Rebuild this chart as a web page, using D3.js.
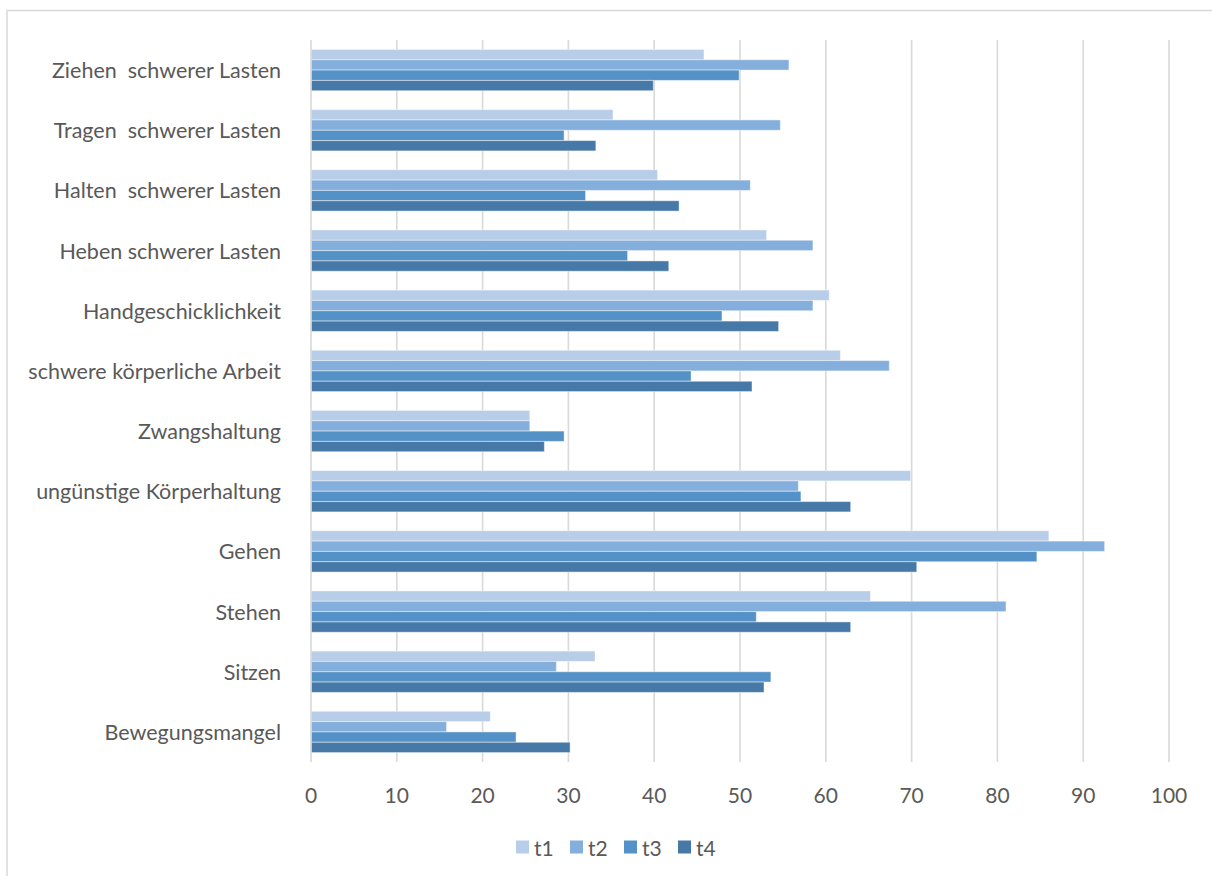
<!DOCTYPE html>
<html><head><meta charset="utf-8">
<script src="https://cdn.jsdelivr.net/npm/d3@7"></script>
<style>
html,body{margin:0;padding:0;background:#fff;}
svg{display:block;}
text{font-family:Lato,"Open Sans",sans-serif;fill:#595959;}
</style></head>
<body>
<svg id="chart" width="1212" height="876"></svg>
<script>
const categories = ["Ziehen  schwerer Lasten","Tragen  schwerer Lasten","Halten  schwerer Lasten","Heben schwerer Lasten","Handgeschicklichkeit","schwere körperliche Arbeit","Zwangshaltung","ungünstige Körperhaltung","Gehen","Stehen","Sitzen","Bewegungsmangel"];
const seriesNames = ["t1","t2","t3","t4"];
const t1 = [45.8,35.2,40.4,53.1,60.4,61.7,25.5,69.9,86.0,65.2,33.1,20.9];
const t2 = [55.7,54.7,51.2,58.5,58.5,67.4,25.5,56.8,92.5,81.0,28.6,15.8];
const t3 = [49.9,29.5,32.0,36.9,47.9,44.3,29.5,57.1,84.6,51.9,53.6,23.9];
const t4 = [39.9,33.2,42.9,41.7,54.5,51.4,27.2,62.9,70.6,62.9,52.8,30.2];
const xTicks = [0,10,20,30,40,50,60,70,80,90,100];
const colors = ["#B7CDE8","#84AEDB","#5491C7","#4679A8"];

const seriesValues = [t1,t2,t3,t4];
const svg = d3.select("#chart");

// outer border
svg.append("rect").attr("x",7).attr("y",10.5).attr("width",1220).attr("height",880)
  .attr("fill","none").attr("stroke","#d9d9d9").attr("stroke-width",1.5);

const pLeft = 311, pRight = 1169, pTop = 40, pBottom = 762;
const x = d3.scaleLinear().domain([0,100]).range([pLeft,pRight]);
const y = d3.scaleBand().domain(categories).range([pTop,pBottom]).padding(0);
const inner = d3.scaleBand().domain(seriesNames).range([0,y.bandwidth()]).paddingInner(0).paddingOuter(0.913);

// gridlines
svg.append("g").selectAll("line").data(xTicks.slice(1)).join("line")
  .attr("x1",d=>x(d)).attr("x2",d=>x(d)).attr("y1",pTop).attr("y2",pBottom)
  .attr("stroke","#d9d9d9").attr("stroke-width",1.6);

// bars
const rows = categories.map((c,i)=>({cat:c, vals:seriesNames.map((s,j)=>({s, v:seriesValues[j][i], j}))}));
const g = svg.append("g");
g.selectAll("g").data(rows).join("g")
  .attr("transform",d=>`translate(0,${y(d.cat)})`)
  .selectAll("rect").data(d=>d.vals).join("rect")
  .attr("x",x(0)).attr("y",d=>inner(d.s))
  .attr("width",d=>x(d.v)-x(0)).attr("height",inner.bandwidth())
  .attr("fill",d=>colors[d.j])
  .attr("stroke","#ffffff").attr("stroke-opacity",0.45).attr("stroke-width",1);

// category axis line
svg.append("line").attr("x1",pLeft).attr("x2",pLeft).attr("y1",pTop).attr("y2",pBottom)
  .attr("stroke","#d9d9d9").attr("stroke-width",1.6);

// category labels
svg.append("g").selectAll("text").data(categories).join("text")
  .attr("x",281).attr("y",d=>y(d)+y.bandwidth()/2)
  .attr("text-anchor","end").attr("dominant-baseline","central")
  .style("white-space","pre").style("font-size","21.5px")
  .text(d=>d);

// x tick labels
svg.append("g").selectAll("text").data(xTicks).join("text")
  .attr("x",d=>x(d)).attr("y",794)
  .attr("text-anchor","middle").attr("dominant-baseline","central")
  .style("font-size","21px").text(d=>d);

// legend
const legX = [516,570,624,678];
const lg = svg.append("g").selectAll("g").data(seriesNames).join("g")
  .attr("transform",(d,i)=>`translate(${legX[i]},847)`);
lg.append("rect").attr("x",0).attr("y",-6.5).attr("width",13).attr("height",13).attr("fill",(d,i)=>colors[i]);
lg.append("text").attr("x",18).attr("y",0).attr("dominant-baseline","central").style("font-size","21px").text(d=>d);
</script>
</body></html>
